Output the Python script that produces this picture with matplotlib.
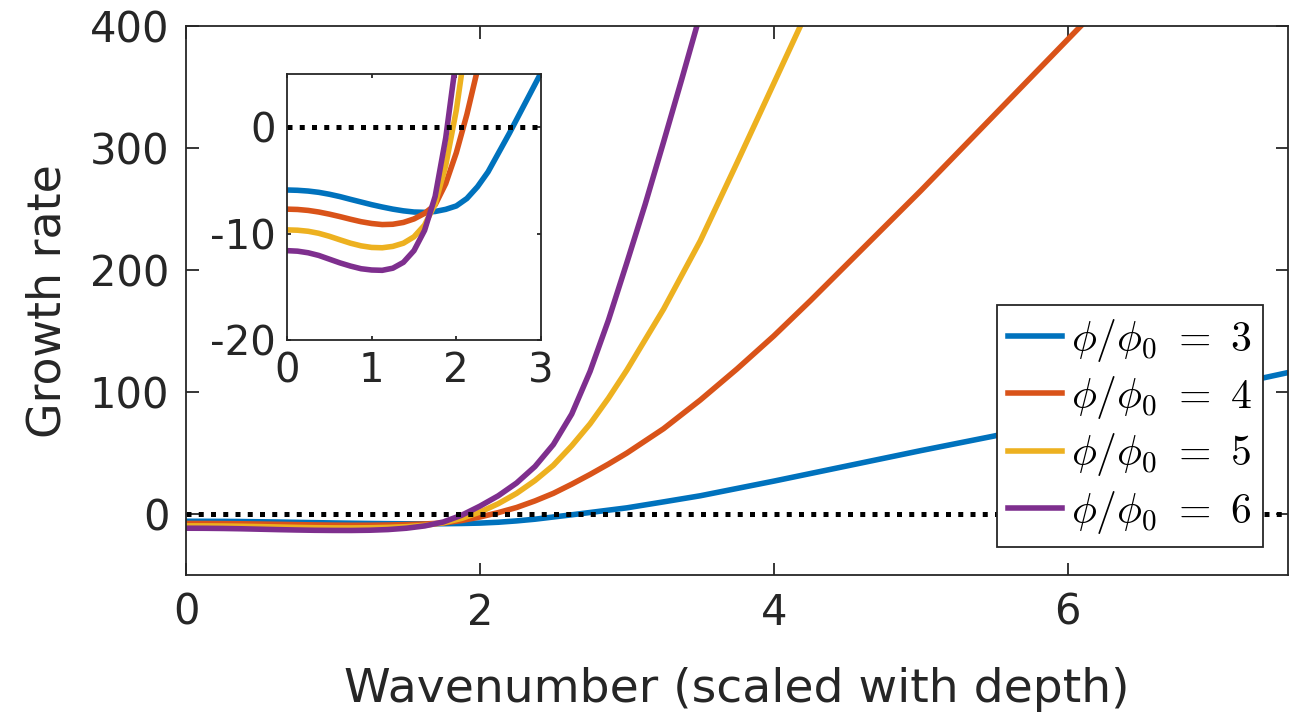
import numpy as np
import matplotlib.pyplot as plt

plt.rcParams['font.family'] = ['DejaVu Sans']
plt.rcParams['mathtext.fontset'] = 'cm'
plt.rcParams['axes.unicode_minus'] = False

# phi/phi0 values and MATLAB default line colours
ratios = [3, 4, 5, 6]
colors = ['#0072BD', '#D95319', '#EDB120', '#7E2F8E']

# wavenumber (scaled with depth) and growth rate
k_3 = [0, 0.125, 0.25, 0.375, 0.5, 0.625, 0.75, 0.875, 1, 1.125, 1.25, 1.375,
       1.5, 1.625, 1.75, 1.875, 2, 2.125, 2.25, 2.375, 2.5, 2.625, 2.75, 2.875,
       3, 3.25, 3.5, 3.75, 4, 4.5, 5, 5.5, 6, 6.5, 7, 7.5]
g_3 = [-5.9, -5.93, -6.0, -6.12, -6.3, -6.52, -6.78, -7.03, -7.28, -7.5, -7.7, -7.86,
       -7.97, -8.0, -7.92, -7.72, -7.4, -6.7, -5.6, -4.2, -2.4, -0.6, 1.3, 3.2,
       5.1, 10.0, 15.0, 21, 27, 39.5, 52, 64, 77, 90, 103, 116]

k_4 = [0, 0.125, 0.25, 0.375, 0.5, 0.625, 0.75, 0.875, 1, 1.125, 1.25, 1.375,
       1.5, 1.625, 1.75, 1.875, 2, 2.125, 2.25, 2.375, 2.5, 2.625, 2.75, 2.875,
       3, 3.25, 3.5, 3.75, 4, 4.25, 4.5, 4.75, 5, 5.25, 5.5, 5.75, 6, 6.25]
g_4 = [-7.7, -7.73, -7.82, -7.97, -8.17, -8.4, -8.65, -8.88, -9.05, -9.15, -9.12, -8.95,
       -8.62, -8.1, -7.3, -5.3, -2.4, 1.2, 5.4, 10.8, 17, 24.5, 32.5, 41,
       50, 70, 93.5, 119, 146, 175, 205, 235, 265, 296, 327, 358, 389, 420]

k_5 = [0, 0.125, 0.25, 0.375, 0.5, 0.625, 0.75, 0.875, 1, 1.125, 1.25, 1.375,
       1.5, 1.625, 1.75, 1.875, 2, 2.125, 2.25, 2.375, 2.5, 2.625, 2.75, 2.875,
       3, 3.25, 3.5, 3.75, 4, 4.25]
g_5 = [-9.65, -9.68, -9.78, -9.97, -10.25, -10.58, -10.9, -11.15, -11.3, -11.33, -11.2, -10.9,
       -10.3, -9.2, -7.2, -3.6, 1.6, 8.5, 17, 27.5, 40, 56, 74, 95,
       118, 168, 224, 288, 353, 418]

k_6 = [0, 0.125, 0.25, 0.375, 0.5, 0.625, 0.75, 0.875, 1, 1.125, 1.25, 1.375,
       1.5, 1.625, 1.75, 1.875, 2, 2.125, 2.25, 2.375, 2.5, 2.625, 2.75, 2.875,
       3, 3.125, 3.25, 3.375, 3.5]
g_6 = [-11.6, -11.65, -11.8, -12.05, -12.4, -12.75, -13.05, -13.3, -13.42, -13.45, -13.25, -12.7,
       -11.6, -9.7, -6.5, -1.0, 6.5, 15, 25.5, 39, 57, 82, 117, 159,
       206, 254, 305, 357, 410]

ks = [k_3, k_4, k_5, k_6]
gs = [g_3, g_4, g_5, g_6]

axis_col = '#262626'

fig = plt.figure(figsize=(13.01, 7.27), dpi=100)
ax = fig.add_axes([0.143, 0.209, 0.847, 0.755])
ins = fig.add_axes([0.2206, 0.5323, 0.1952, 0.3659])


def style_axes(a, size, ticklen):
    for s in a.spines.values():
        s.set_color(axis_col)
        s.set_linewidth(1.3)
    a.tick_params(direction='in', top=True, right=True, length=ticklen,
                  width=1.3, color=axis_col, labelcolor=axis_col,
                  labelsize=size, pad=12)


# main plot
for k, g, r, c in zip(ks, gs, ratios, colors):
    ax.plot(k, g, color=c, lw=4.0, label=r'$\phi/\phi_0\ =\ %d$' % r)
ax.plot([0, 7.5], [0, 0], color='black', lw=3.6, linestyle=(0, (1.0, 1.45)))
ax.set_xlim(0, 7.5)
ax.set_ylim(-50, 400)
ax.set_xticks([0, 2, 4, 6])
ax.set_yticks([0, 100, 200, 300, 400])
style_axes(ax, 30, 9)
ax.set_xlabel('Wavenumber (scaled with depth)', fontsize=34, color=axis_col, labelpad=24)
ax.set_ylabel('Growth rate', fontsize=33, color=axis_col, labelpad=14)

leg = ax.legend(loc='lower right', bbox_to_anchor=(0.977, 0.051), borderaxespad=0,
                fontsize=30, fancybox=False, framealpha=1, edgecolor=axis_col,
                handlelength=1.3, handletextpad=0.2, labelspacing=0.25,
                borderpad=0.27)
leg.get_frame().set_linewidth(1.3)

# inset
for k, g, c in zip(ks, gs, colors):
    ins.plot(k, g, color=c, lw=4.0)
ins.plot([0, 3], [0, 0], color='black', lw=3.6, linestyle=(0, (1.0, 1.45)))
ins.set_xlim(0, 3)
ins.set_ylim(-20, 5)
ins.set_xticks([0, 1, 2, 3])
ins.set_yticks([-20, -10, 0])
style_axes(ins, 29, 3)
ins.tick_params(pad=8)

fig.savefig('out.png', dpi=100)
